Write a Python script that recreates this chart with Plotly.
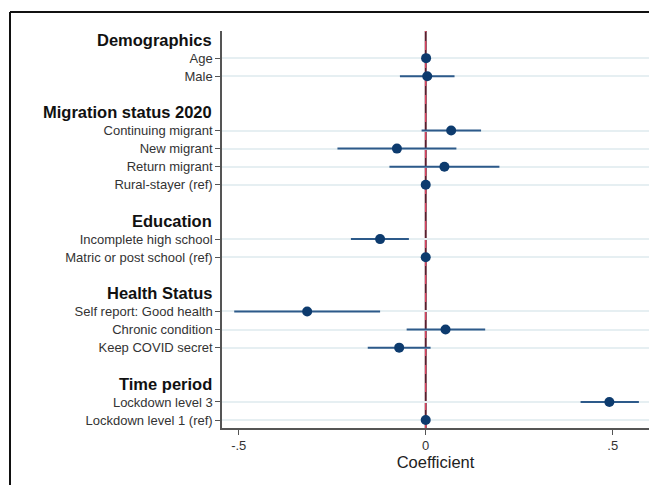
import plotly.graph_objects as go

# ---- data ----
groups = ["Demographics", "Migration status 2020", "Education", "Health Status", "Time period"]
group_items = [
    ["Age", "Male"],
    ["Continuing migrant", "New migrant", "Return migrant", "Rural-stayer (ref)"],
    ["Incomplete high school", "Matric or post school (ref)"],
    ["Self report: Good health", "Chronic condition", "Keep COVID secret"],
    ["Lockdown level 3", "Lockdown level 1 (ref)"],
]
coef = [
    [0.001, 0.004],
    [0.068, -0.077, 0.050, 0.0],
    [-0.122, 0.0],
    [-0.317, 0.053, -0.071],
    [0.491, 0.0],
]
ci_low = [
    [-0.003, -0.069],
    [-0.011, -0.236, -0.097, 0.0],
    [-0.200, 0.0],
    [-0.512, -0.051, -0.155],
    [0.414, 0.0],
]
ci_high = [
    [0.005, 0.077],
    [0.148, 0.082, 0.197, 0.0],
    [-0.045, 0.0],
    [-0.122, 0.159, 0.013],
    [0.570, 0.0],
]
x_tickvals = [-0.5, 0, 0.5]
x_ticktext = ["-.5", "0", ".5"]

# ---- layout of rows (top to bottom, blank row between groups) ----
rows = []  # (kind, label, coef, lo, hi)
for gi, g in enumerate(groups):
    if gi > 0:
        rows.append(("blank", "", None, None, None))
    rows.append(("header", g, None, None, None))
    for j, it in enumerate(group_items[gi]):
        rows.append(("item", it, coef[gi][j], ci_low[gi][j], ci_high[gi][j]))
n = len(rows)
ypos = [n - 1 - i for i in range(n)]

item_y, item_lbl, item_x, item_lo, item_hi = [], [], [], [], []
headers = []
for (kind, lbl, c, lo, hi), y in zip(rows, ypos):
    if kind == "item":
        item_y.append(y); item_lbl.append(lbl); item_x.append(c)
        item_lo.append(lo); item_hi.append(hi)
    elif kind == "header":
        headers.append((lbl, y))

fig = go.Figure()

# CI lines
ci_x, ci_y = [], []
for y, lo, hi in zip(item_y, item_lo, item_hi):
    ci_x += [lo, hi, None]
    ci_y += [y, y, None]
fig.add_trace(go.Scatter(x=ci_x, y=ci_y, mode="lines",
                         line=dict(color="#2d5a8a", width=2), hoverinfo="skip",
                         showlegend=False))

# points
fig.add_trace(go.Scatter(x=item_x, y=item_y, mode="markers",
                         marker=dict(color="#0d3b6e", size=10),
                         showlegend=False))

# zero line (dark with red dashes), beneath the traces
fig.add_shape(type="line", xref="x", yref="paper", x0=0, x1=0, y0=0, y1=1,
              line=dict(color="#5a1f2e", width=2), layer="below")
fig.add_shape(type="line", xref="x", yref="paper", x0=0, x1=0, y0=0, y1=1,
              line=dict(color="#ff4d6d", width=1, dash="dash"), layer="below")

for lbl, y in headers:
    fig.add_annotation(x=0, xref="paper", y=y, yref="y", text="<b>" + lbl + "</b>",
                       showarrow=False, xanchor="right", yanchor="middle", xshift=-8,
                       font=dict(family="Liberation Sans, Arial", size=16.5, color="#111111"))

# page has an 8px body margin, so the figure is sized to fit the window
W, H = 649, 477
L, T = 214, 23
R = W - 641
B = H - 420
pw, ph = W - L - R, H - T - B
# frame (top and left edges visible; right/bottom run off the picture)
fx0 = (2 - L) / pw
fx1 = (W - L) / pw
fy_top = 1 + (T - 4) / ph
fy_bot = -B / ph
fig.add_shape(type="line", xref="paper", yref="paper", x0=fx0, x1=fx1, y0=fy_top, y1=fy_top,
              line=dict(color="#111111", width=2))
fig.add_shape(type="line", xref="paper", yref="paper", x0=fx0, x1=fx0, y0=fy_top, y1=fy_bot,
              line=dict(color="#111111", width=2))

fig.update_layout(
    width=W, height=H,
    margin=dict(l=L, r=R, t=T, b=B),
    paper_bgcolor="white", plot_bgcolor="white",
    font=dict(family="Liberation Sans, Arial", color="#333333"),
)
fig.update_xaxes(range=[-0.5447, 0.597], tickvals=x_tickvals, ticktext=x_ticktext,
                 showgrid=False, zeroline=False, showline=True, linecolor="#555555",
                 linewidth=1.5, ticks="outside", ticklen=5, tickcolor="#555555",
                 tickfont=dict(size=13, color="#333333"),
                 title=dict(text="Coefficient", font=dict(size=16.5, color="#222222"), standoff=2))
fig.update_yaxes(range=[-0.44, n - 1 + 0.5], tickvals=item_y, ticktext=item_lbl,
                 showgrid=True, gridcolor="#e6eff2", gridwidth=1.5, zeroline=False,
                 showline=True, linecolor="#555555", linewidth=1.5,
                 ticks="outside", ticklen=5, tickcolor="#555555",
                 tickfont=dict(size=13, color="#333333"))

fig.write_html("out.html")
